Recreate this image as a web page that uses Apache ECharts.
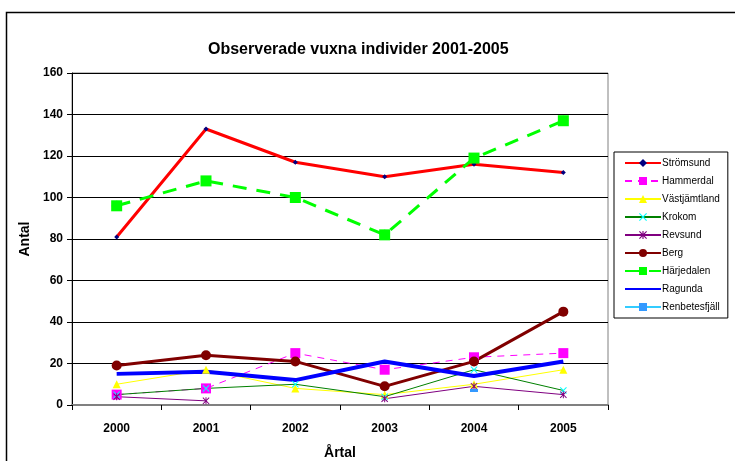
<!DOCTYPE html>
<html>
<head>
<meta charset="utf-8">
<script src="https://cdn.jsdelivr.net/npm/echarts@6/dist/echarts.min.js"></script>
<style>
  html, body { margin: 0; padding: 0; background: #fff; }
  #chart { width: 735px; height: 461px; }
</style>
</head>
<body>
<div id="chart"></div>
<script>
// years on the x axis
const years = ['2000', '2001', '2002', '2003', '2004', '2005'];

// observed adults per area
const stromsund = [81, 133, 117, 110, 116, 112];
const hammerdal = [5, 8, 25, 17, 23, 25];
const vastjamtland = [10, 17, 8, 5, 10, 17];
const krokom = [5, 8, 10, 4, 17, 7];
const revsund = [4, 2, null, 3, 9, 5];
const berg = [19, 24, 21, 9, 21, 45];
const harjedalen = [96, 108, 100, 82, 119, 137];
const ragunda = [15, 16, 12, 21, 14, 21];
const renbetesfjall = [null, null, null, null, 7, null];

const xMark = 'path://M0,1L1,0L5,4L9,0L10,1L6,5L10,9L9,10L5,6L1,10L0,9L4,5Z';
const starMark = 'path://M0,1L1,0L5,4L9,0L10,1L6,5L10,9L9,10L5,6L1,10L0,9L4,5Z M4.3,0H5.7V10H4.3Z';
const plusMark = 'path://M4.4,0H5.6V4.4H10V5.6H5.6V10H4.4V5.6H0V4.4H4.4Z';

let myChart = echarts.init(document.getElementById('chart'));

const lineSeries = (name, data, color, width, type, symbol, size, markColor) => ({
    name: name,
    type: 'line',
    data: data,
    symbol: symbol,
    symbolSize: size,
    connectNulls: false,
    animation: false,
    lineStyle: { color: color, width: width, type: type },
    itemStyle: { color: markColor || color, borderWidth: 0 },
    emphasis: { disabled: true }
});

const ragundaSeries = lineSeries('Ragunda', ragunda, '#0000FF', 4, 'solid', 'circle', 1, 'rgba(0,0,0,0)');
ragundaSeries.showSymbol = false;

myChart.setOption({
    backgroundColor: '#fff',
    textStyle: { fontFamily: 'Liberation Sans, Arial, sans-serif' },
    title: {
        text: 'Observerade vuxna individer 2001-2005',
        left: 203,
        top: 37,
        textStyle: { fontSize: 16, fontWeight: 'bold', color: '#000' }
    },
    graphic: [{
        type: 'rect',
        shape: { x: 6.5, y: 12.5, width: 740, height: 460 },
        style: { fill: 'none', stroke: '#000', lineWidth: 1.5 },
        silent: true
    }],
    legend: {
        orient: 'vertical',
        left: 614,
        top: 152,
        padding: [6, 8, 6, 10],
        itemWidth: 36,
        itemHeight: 10,
        itemGap: 8,
        borderColor: '#000',
        borderWidth: 1,
        textStyle: { fontSize: 10, color: '#000', padding: [0, 0, 0, -4] },
        data: ['Strömsund', 'Hammerdal', 'Västjämtland', 'Krokom', 'Revsund', 'Berg', 'Härjedalen', 'Ragunda', 'Renbetesfjäll']
    },
    grid: {
        left: 72,
        right: 127,
        top: 73,
        bottom: 56,
        outerBoundsMode: 'none',
        show: true,
        borderColor: '#808080',
        borderWidth: 1
    },
    xAxis: {
        type: 'category',
        data: years,
        boundaryGap: true,
        name: 'Årtal',
        nameLocation: 'middle',
        nameGap: 41,
        nameTextStyle: { fontSize: 14, fontWeight: 'bold', color: '#000' },
        axisLine: { lineStyle: { color: '#808080', width: 2 } },
        axisTick: { show: true, length: 5, lineStyle: { color: '#000' } },
        axisLabel: { fontSize: 12, fontWeight: 'bold', color: '#000', margin: 18 }
    },
    yAxis: {
        type: 'value',
        min: 0,
        max: 160,
        interval: 20,
        name: 'Antal',
        nameLocation: 'middle',
        nameGap: 36,
        nameTextStyle: { fontSize: 14, fontWeight: 'bold', color: '#000' },
        axisLine: { show: true, lineStyle: { color: '#000', width: 1 } },
        axisTick: { show: true, length: 5, lineStyle: { color: '#000' } },
        axisLabel: { fontSize: 12, fontWeight: 'bold', color: '#000', margin: 9 },
        splitLine: { lineStyle: { color: '#000', width: 1 } }
    },
    series: [
        lineSeries('Strömsund', stromsund, '#FF0000', 3, 'solid', 'diamond', 5, '#000080'),
        lineSeries('Hammerdal', hammerdal, '#FF00FF', 1, [7, 6], 'rect', 10),
        lineSeries('Västjämtland', vastjamtland, '#FFFF00', 1, 'solid', 'triangle', 8),
        lineSeries('Krokom', krokom, '#008000', 1, 'solid', xMark, 7, '#00FFFF'),
        lineSeries('Revsund', revsund, '#800080', 1, 'solid', starMark, 7),
        lineSeries('Berg', berg, '#800000', 3, 'solid', 'circle', 10),
        lineSeries('Härjedalen', harjedalen, '#00FF00', 3, [14, 10], 'rect', 11),
        ragundaSeries,
        lineSeries('Renbetesfjäll', renbetesfjall, '#33CCFF', 1, 'solid', 'path://M0,0H10V3H0Z', [8, 3], '#3399FF'),
        {
            // the thin cross drawn on each Härjedalen square
            name: 'Härjedalen-kors',
            type: 'scatter',
            data: harjedalen,
            symbol: plusMark,
            symbolSize: 10,
            animation: false,
            itemStyle: { color: '#207060' },
            emphasis: { disabled: true }
        }
    ]
});
window.addEventListener('resize', () => myChart.resize());
</script>
</body>
</html>
